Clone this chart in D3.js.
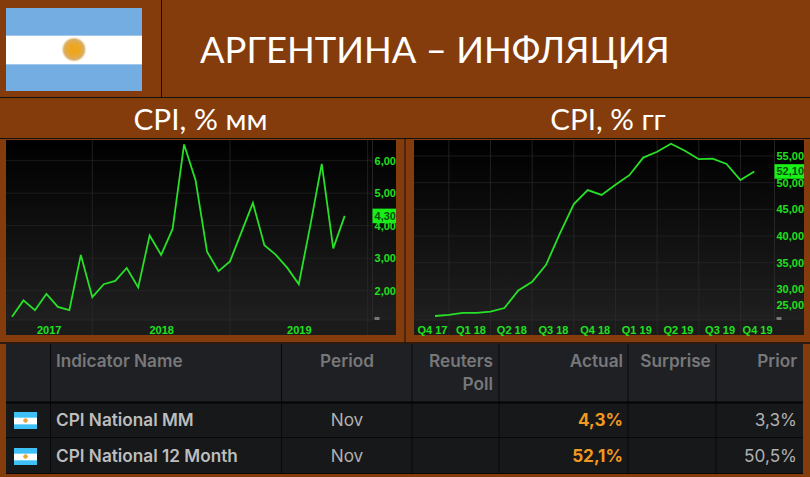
<!DOCTYPE html>
<html><head><meta charset="utf-8">
<script src="https://cdn.jsdelivr.net/npm/d3@7"></script>
<style>html,body{margin:0;padding:0;background:#843c0c;overflow:hidden}svg{display:block}</style>
</head><body><div id="c"></div>
<script>
const mainTitle = "АРГЕНТИНА – ИНФЛЯЦИЯ";
const leftTitle = "CPI, % мм", rightTitle = "CPI, % гг";

const mmMonths = ["2017-06","2017-07","2017-08","2017-09","2017-10","2017-11","2017-12","2018-01","2018-02","2018-03","2018-04","2018-05","2018-06","2018-07","2018-08","2018-09","2018-10","2018-11","2018-12","2019-01","2019-02","2019-03","2019-04","2019-05","2019-06","2019-07","2019-08","2019-09","2019-10","2019-11"];
const mmValues = [1.2,1.7,1.4,1.9,1.5,1.4,3.1,1.8,2.2,2.3,2.7,2.1,3.7,3.1,3.9,6.5,5.4,3.2,2.6,2.9,3.8,4.7,3.4,3.1,2.7,2.2,4.0,5.9,3.3,4.3];
const mmTicks = [2,3,4,5,6];
const mmLast = 4.3;
const mmYears = ["2017","2018","2019"];

const yyMonths = ["2017-12","2018-01","2018-02","2018-03","2018-04","2018-05","2018-06","2018-07","2018-08","2018-09","2018-10","2018-11","2018-12","2019-01","2019-02","2019-03","2019-04","2019-05","2019-06","2019-07","2019-08","2019-09","2019-10","2019-11"];
const yyValues = [25.0,25.2,25.6,25.6,25.8,26.5,29.8,31.4,34.6,40.5,46.0,48.6,47.7,49.6,51.4,54.7,55.8,57.3,56.0,54.4,54.5,53.5,50.5,52.1];
const yyTicks = [25,30,35,40,45,50,55];
const yyLast = 52.1;
const yyQuarters = ["Q4 17","Q1 18","Q2 18","Q3 18","Q4 18","Q1 19","Q2 19","Q3 19","Q4 19"];

const tableHeaders = ["Indicator Name","Period",["Reuters","Poll"],"Actual","Surprise","Prior"];
const indicators = ["CPI National MM","CPI National 12 Month"];
const periods = ["Nov","Nov"];
const actuals = ["4,3%","52,1%"];
const priors = ["3,3%","50,5%"];

const W=810,H=477,BROWN="#843c0c",GREEN="#1fe01f",LINE="#27e027";
const svg=d3.select("#c").append("svg").attr("width",W).attr("height",H);
svg.append("rect").attr("width",W).attr("height",H).attr("fill",BROWN);
const defs=svg.append("defs");
const grad=defs.append("linearGradient").attr("id","pg").attr("x1",0).attr("x2",0).attr("y1",0).attr("y2",1);
grad.append("stop").attr("offset",0).attr("stop-color","#000");
grad.append("stop").attr("offset",1).attr("stop-color","#1f1f1f");
const sun=defs.append("radialGradient").attr("id","sun");
sun.append("stop").attr("offset","0.35").attr("stop-color","#eea61c");
sun.append("stop").attr("offset","0.8").attr("stop-color","#dcae62");
sun.append("stop").attr("offset","1").attr("stop-color","#fff");

const rule=(x1,y1,x2,y2,c="#111",w=1)=>svg.append("line").attr("x1",x1).attr("y1",y1).attr("x2",x2).attr("y2",y2).attr("stroke",c).attr("stroke-width",w);
rule(161.5,0,161.5,97); rule(0,97.5,W,97.5); rule(0,138.5,W,138.5); rule(405,138,405,343); rule(0,343,W,343,"#111",1.5);

function flag(x,y,w,h,blue,rad){
  const g=svg.append("g");
  g.append("rect").attr("x",x).attr("y",y).attr("width",w).attr("height",h).attr("fill",blue);
  g.append("rect").attr("x",x).attr("y",y+h/3).attr("width",w).attr("height",h/3+1).attr("fill","#fff");
  g.append("circle").attr("cx",x+w*0.5).attr("cy",y+h/2).attr("r",rad).attr("fill","url(#sun)");
}
flag(6,8,136,83,"#74ade2",12.5);

const T="Lato, 'Open Sans', sans-serif";
svg.append("text").attr("x",200).attr("y",63).attr("font-family",T).attr("font-size",36.4).attr("fill","#fff").text(mainTitle);
svg.append("text").attr("x",200.5).attr("y",130).attr("text-anchor","middle").attr("font-family",T).attr("font-size",29.8).attr("fill","#fff").text(leftTitle);
svg.append("text").attr("x",608).attr("y",130).attr("text-anchor","middle").attr("font-family",T).attr("font-size",29.5).attr("fill","#fff").text(rightTitle);

function chart(o){
  const g=svg.append("g");
  g.append("rect").attr("x",o.x0).attr("y",140).attr("width",o.x1-o.x0).attr("height",195).attr("fill","#1b1b1b");
  g.append("rect").attr("x",o.x0).attr("y",140).attr("width",o.x1-o.x0).attr("height",180).attr("fill","url(#pg)");
  o.ticks.forEach(t=>g.append("line").attr("x1",o.x0).attr("x2",o.axisX).attr("y1",o.y(t)).attr("y2",o.y(t)).attr("stroke","#2a2a2a").attr("stroke-width",.6));
  o.seps.forEach(i=>g.append("line").attr("x1",o.xIdx(i)).attr("x2",o.xIdx(i)).attr("y1",140).attr("y2",335).attr("stroke","#2c2c2c").attr("stroke-width",.7));
  g.append("line").attr("x1",o.axisX).attr("x2",o.axisX).attr("y1",140).attr("y2",320).attr("stroke","#2c2c2c").attr("stroke-width",.8);
  g.append("line").attr("x1",o.x0).attr("x2",o.axisX).attr("y1",320).attr("y2",320).attr("stroke","#2c2c2c").attr("stroke-width",.8);
  const ly=o.y(o.last);
  g.append("rect").attr("x",o.axisX).attr("y",ly-7.3).attr("width",o.x1-o.axisX).attr("height",14.6).attr("fill","#18f018");
  const ya=g.append("g").attr("transform",`translate(${o.x1},0)`).call(d3.axisLeft(o.y).tickValues(o.ticks).tickSize(0).tickPadding(0).tickFormat(v=>d3.format(".2f")(v).replace(".",",")));
  ya.select(".domain").remove();
  ya.selectAll("text").attr("font-family","Liberation Sans").attr("font-weight","bold").attr("font-size",11).attr("fill",GREEN)
    .attr("dy",v=>v===o.clamped?"-7.2":"0.32em");
  g.append("text").attr("x",o.x1).attr("y",ly+4).attr("text-anchor","end").attr("font-family","Liberation Sans").attr("font-weight","bold").attr("font-size",11).attr("fill","#0b4d0b").text(d3.format(".2f")(o.last).replace(".",","));
  const xa=g.append("g").attr("transform","translate(0,320)").call(d3.axisBottom(o.xIdx).tickValues(o.labelAt).tickSize(0).tickPadding(6).tickFormat((d,i)=>o.labels[i]));
  xa.select(".domain").remove();
  xa.selectAll("text").attr("font-family","Liberation Sans").attr("font-weight","bold").attr("font-size",11).attr("fill",GREEN);
  g.append("rect").attr("x",o.axisX+2).attr("y",317).attr("width",5).attr("height",3).attr("fill","#777");
  g.append("path").datum(o.values).attr("fill","none").attr("stroke",LINE).attr("stroke-width",1.8).attr("stroke-linejoin","miter")
   .attr("d",d3.line().x((d,i)=>o.xIdx(i)).y(d=>o.y(d)));
}

chart({x0:6,x1:396,axisX:372.5,values:mmValues,last:mmLast,ticks:mmTicks,
  y:d3.scaleLinear().domain([2,6]).range([290.67,160.67]),
  xIdx:d3.scaleLinear().domain([0,mmMonths.length-1]).range([12,344.7]),
  seps:[mmMonths.indexOf("2018-01"),mmMonths.indexOf("2019-01"),31],
  labelAt:[3.2,13,25],labels:mmYears});

chart({x0:414,x1:804,axisX:774.5,values:yyValues,last:yyLast,ticks:yyTicks,clamped:25,
  y:d3.scaleLinear().domain([25,55]).range([316,156]),
  xIdx:d3.scaleLinear().domain([0,yyMonths.length-1]).range([435,754.3]),
  seps:[1,4,7,10,13,16,19,22],
  labelAt:[-0.22,2.55,5.5,8.5,11.5,14.5,17.5,20.5,23.2],labels:yyQuarters});

const cols=[6,50.5,281.5,412,499,628,716,803];
const rows=[344,402.5,437.5,473.5];
const tb=svg.append("g");
tb.append("rect").attr("x",cols[0]).attr("y",rows[0]).attr("width",cols[7]-cols[0]).attr("height",rows[1]-rows[0]).attr("fill","#1f2023");
tb.append("rect").attr("x",cols[0]).attr("y",rows[1]).attr("width",cols[7]-cols[0]).attr("height",rows[3]-rows[1]).attr("fill","#17181a");
cols.slice(1,-1).forEach(c=>tb.append("line").attr("x1",c).attr("x2",c).attr("y1",rows[0]).attr("y2",rows[3]).attr("stroke","#08080a"));
tb.append("line").attr("x1",cols[0]).attr("x2",cols[7]).attr("y1",rows[1]).attr("y2",rows[1]).attr("stroke","#050505").attr("stroke-width",2);
tb.append("line").attr("x1",cols[0]).attr("x2",cols[7]).attr("y1",rows[2]).attr("y2",rows[2]).attr("stroke","#08080a");
tb.append("line").attr("x1",cols[0]).attr("x2",cols[7]).attr("y1",rows[3]).attr("y2",rows[3]).attr("stroke","#08080a");
const TF="Inter, 'Open Sans', sans-serif";
const cell=(x,y,s,anchor,fill,weight=600,size=17.2)=>tb.append("text").attr("x",x).attr("y",y).attr("text-anchor",anchor).attr("font-family",TF).attr("font-weight",weight).attr("font-size",size).attr("fill",fill).text(s);
const HC="#77787a";
cell(56,367,tableHeaders[0],"start",HC);
cell(347,367,tableHeaders[1],"middle",HC);
cell(493,367,tableHeaders[2][0],"end",HC);
cell(493,390,tableHeaders[2][1],"end",HC);
cell(623,367,tableHeaders[3],"end",HC);
cell(675.5,367,tableHeaders[4],"middle",HC);
cell(797,367,tableHeaders[5],"end",HC);
indicators.forEach((s,i)=>{
  const y=[426,462][i];
  flag(14,[412,448][i],23,17,"#3cc0f5",2.5);
  cell(56,y,s,"start","#bdbdbd");
  cell(347,y,periods[i],"middle","#b0b0b0",400);
  cell(623,y,actuals[i],"end","#f0991e",700);
  cell(797,y,priors[i],"end","#b0b0b0",400);
});
</script></body></html>
